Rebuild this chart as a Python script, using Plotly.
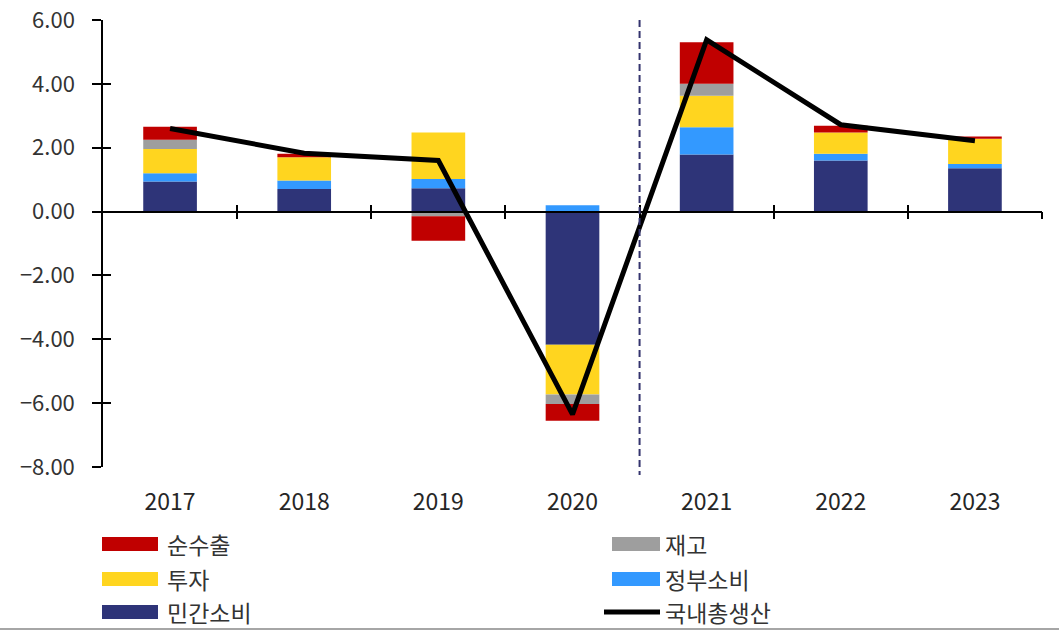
import plotly.graph_objects as go

# Contributions to GDP growth by expenditure component (%p)
years = ["2017", "2018", "2019", "2020", "2021", "2022", "2023"]
private_consumption = [0.94, 0.71, 0.73, -4.17, 1.79, 1.60, 1.36]
government_consumption = [0.26, 0.26, 0.29, 0.20, 0.85, 0.21, 0.13]
investment = [0.76, 0.73, 1.46, -1.56, 0.99, 0.67, 0.79]
inventory = [0.29, 0.00, -0.15, -0.30, 0.37, 0.00, 0.00]
net_exports = [0.41, 0.11, -0.76, -0.52, 1.30, 0.21, 0.07]
gdp_growth = [2.60, 1.83, 1.60, -6.35, 5.38, 2.72, 2.22]

y_ticks = [6, 4, 2, 0, -2, -4, -6, -8]

series_names = ["민간소비", "정부소비", "투자", "재고", "순수출"]
series_values = [private_consumption, government_consumption, investment, inventory, net_exports]
series_colors = ["#2E3478", "#3399FF", "#FFD51F", "#9E9E9E", "#C00000"]
gdp_name = "국내총생산"

W, H = 1059, 631
ML, MR, MT, MB = 103, 17, 20, 164
PW, PH = W - ML - MR, H - MT - MB

FONT_KR = "Noto Sans CJK KR"


def px_x(px):
    return (px - ML) / PW


def px_y(py):
    return (H - MB - py) / PH


fig = go.Figure()

for name, vals, color in zip(series_names, series_values, series_colors):
    fig.add_trace(go.Bar(
        x=years, y=vals, name=name, marker_color=color,
        marker_line_width=0, width=0.4, showlegend=False,
    ))

fig.add_trace(go.Scatter(
    x=years, y=gdp_growth, name=gdp_name, mode="lines",
    line=dict(color="black", width=5), showlegend=False,
))

# helper traces so the overlay axes (crossing tick marks) get drawn
idx = list(range(len(years)))
for xa in ("x2", "x3"):
    fig.add_trace(go.Scatter(
        x=idx, y=gdp_growth, xaxis=xa, yaxis="y2", mode="markers",
        marker=dict(opacity=0), hoverinfo="skip", showlegend=False,
    ))

yr = [-8, 6]
zero_pos = (0 - yr[0]) / (yr[1] - yr[0])
boundaries = [i + 0.5 for i in range(len(years))]

y_font = dict(family=FONT_KR, size=22, color="#333333")
x_font = dict(family=FONT_KR, size=23, color="#262626")

fig.update_layout(
    width=W, height=H,
    margin=dict(l=ML, r=MR, t=MT, b=MB, autoexpand=False),
    paper_bgcolor="white", plot_bgcolor="white",
    barmode="relative",
    xaxis=dict(
        type="category", range=[-0.5, len(years) - 0.5], automargin=False,
        showline=False, showgrid=False, zeroline=False, ticks="",
        tickfont=x_font, ticklabelstandoff=19,
    ),
    yaxis=dict(
        range=yr, tickvals=y_ticks, tickformat=".2f", automargin=False,
        showgrid=False, zeroline=False,
        showline=True, linecolor="black", linewidth=1.5,
        ticks="outside", ticklen=9, tickwidth=1.5, tickcolor="black",
        tickfont=y_font, ticklabelstandoff=13,
    ),
    yaxis2=dict(
        range=yr, tickvals=y_ticks, overlaying="y", side="left", anchor="x",
        showgrid=False, zeroline=False, showline=False, showticklabels=False,
        ticks="inside", ticklen=8, tickwidth=1.5, tickcolor="black",
        automargin=False,
    ),
    xaxis2=dict(
        type="linear", range=[-0.5, len(years) - 0.5], overlaying="x",
        anchor="free", position=zero_pos, tickvals=boundaries,
        showgrid=False, zeroline=False, showticklabels=False,
        showline=True, linecolor="black", linewidth=1.5,
        ticks="outside", ticklen=7, tickwidth=1.5, tickcolor="black",
        automargin=False,
    ),
    xaxis3=dict(
        type="linear", range=[-0.5, len(years) - 0.5], overlaying="x",
        anchor="free", position=zero_pos, tickvals=boundaries,
        showgrid=False, zeroline=False, showticklabels=False, showline=False,
        ticks="inside", ticklen=7, tickwidth=1.5, tickcolor="black",
        automargin=False,
    ),
)

# forecast divider between 2020 and 2021
fig.add_shape(
    type="line", xref="x", yref="paper",
    x0=3.5, x1=3.5, y0=1.0, y1=px_y(475),
    line=dict(color="#34346E", width=2, dash="7px,4px"),
)

# legend: two columns, three rows
legend_rows = [
    (("순수출", "#C00000", "bar"), ("재고", "#9E9E9E", "bar")),
    (("투자", "#FFD51F", "bar"), ("정부소비", "#3399FF", "bar")),
    (("민간소비", "#2E3478", "bar"), (gdp_name, "black", "line")),
]
row_centers = [544, 579, 612]
col_swatch = [(102, 158), (604, 660)]
col_text = [165, 663]

for row, cy in zip(legend_rows, row_centers):
    for c, (label, color, kind) in enumerate(row):
        x0, x1 = col_swatch[c]
        if kind == "bar":
            fig.add_shape(
                type="rect", xref="paper", yref="paper",
                x0=px_x(x0 + 8 if c == 1 else x0), x1=px_x(x1),
                y0=px_y(cy + 7), y1=px_y(cy - 7),
                fillcolor=color, line_width=0,
            )
        else:
            fig.add_shape(
                type="line", xref="paper", yref="paper",
                x0=px_x(x0), x1=px_x(x1), y0=px_y(cy), y1=px_y(cy),
                line=dict(color=color, width=5),
            )
        fig.add_annotation(
            xref="paper", yref="paper", x=px_x(col_text[c]), y=px_y(cy),
            text=label, showarrow=False, xanchor="left", yanchor="middle",
            font=dict(family=FONT_KR, size=23, color="#333333"),
        )

# bottom border
fig.add_shape(
    type="line", xref="paper", yref="paper",
    x0=px_x(0), x1=px_x(W), y0=px_y(629), y1=px_y(629),
    line=dict(color="#A6A6A6", width=2),
)

fig.write_html("out.html")
